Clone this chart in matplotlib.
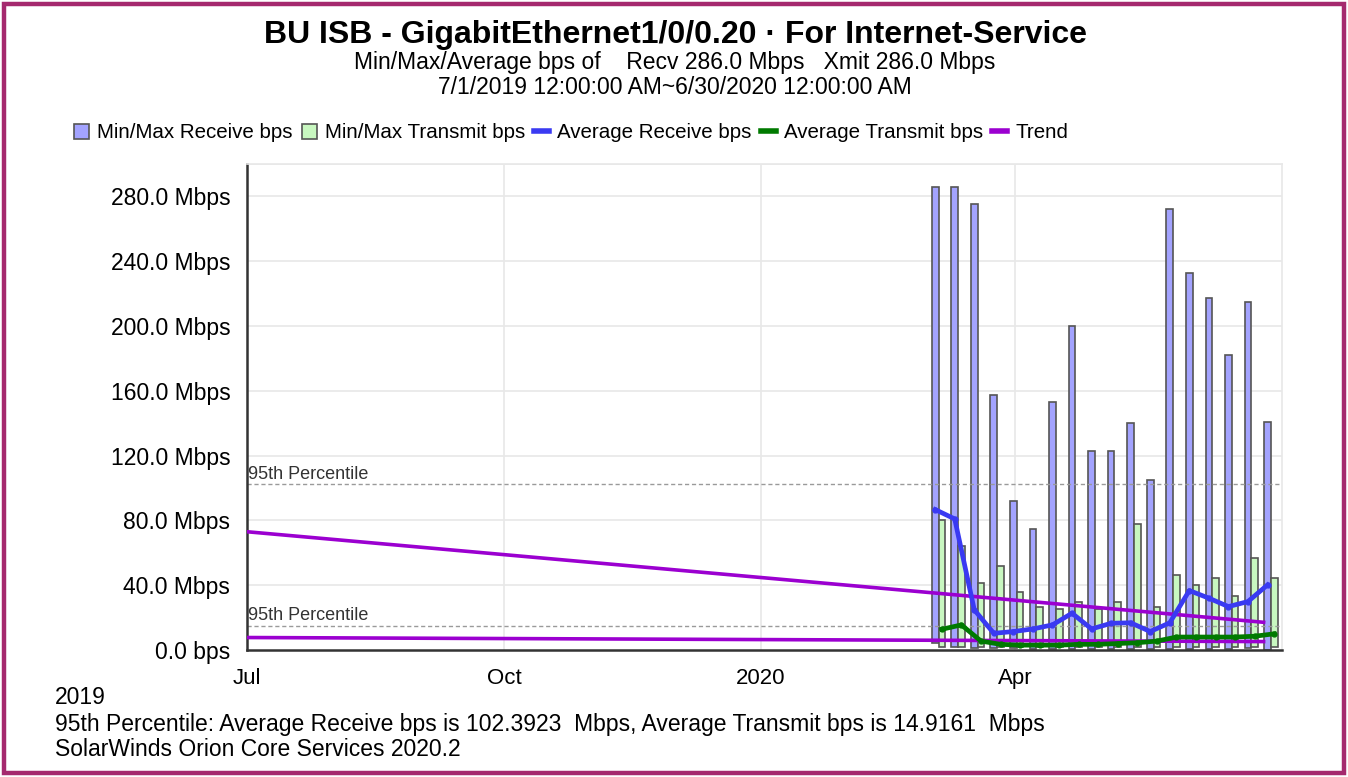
import matplotlib
matplotlib.use("Agg")
import matplotlib.pyplot as plt
import matplotlib.dates as mdates
from matplotlib.patches import Patch, Rectangle
from matplotlib.lines import Line2D
import pandas as pd

# weekly buckets (Min/Max bars + averages)
week_dates = [
    "2020-03-04", "2020-03-11", "2020-03-18", "2020-03-25", "2020-04-01",
    "2020-04-08", "2020-04-15", "2020-04-22", "2020-04-29", "2020-05-06",
    "2020-05-13", "2020-05-20", "2020-05-27", "2020-06-03", "2020-06-10",
    "2020-06-17", "2020-06-24", "2020-07-01",
]
recv_max = [286, 286, 275, 157.5, 92, 75, 153, 200, 123, 123,
            140, 105, 272, 233, 217, 182, 215, 141]
recv_min = [4.5, 1.6, 1.5, 1.0, 1.0, 0.8, 0.8, 0.8, 0.5, 0.5,
            0.5, 0.5, 0.8, 0.8, 0.8, 0.8, 1.0, 0.3]
xmit_max = [80.5, 64, 41.3, 52, 35.6, 26.8, 25.2, 29.9, 25.2, 29.9,
            78, 26.8, 46.4, 40.2, 44.4, 33.4, 56.8, 44.4]
xmit_min = [2.0, 2.0, 2.0, 2.0, 2.0, 2.0, 2.0, 2.0, 2.0, 2.0,
            2.0, 2.0, 2.0, 2.0, 2.0, 2.0, 2.0, 2.0]
recv_avg = [86.7, 80.9, 24.8, 10.3, 11.4, 13, 15.5, 22.7, 13, 16.5,
            16.8, 11.4, 16.8, 36.7, 32, 26.8, 29.9, 40.2]
xmit_avg = [12.8, 15.5, 5.5, 3.5, 3, 3, 3, 3.5, 3.5, 4,
            4.5, 5.5, 8, 8, 8, 8, 8.5, 10]

# trend lines (start / end)
trend_dates = ["2019-07-01", "2020-06-29"]
recv_trend = [73.0, 17.1]
xmit_trend = [7.7, 5.2]

# 95th percentile values (Mbps)
p95_recv = 102.3923
p95_xmit = 14.9161

x_range = ["2019-07-01T00:00", "2020-07-05T14:00"]
tick_dates = ["2019-07-01", "2019-10-01", "2020-01-01", "2020-04-01"]
tick_labels = ["Jul", "Oct", "2020", "Apr"]
y_ticks = [0, 40, 80, 120, 160, 200, 240, 280]

plt.rcParams["font.family"] = "Liberation Sans"

RECV_FILL = "#a3a3ff"
XMIT_FILL = "#c8f7c0"
EDGE = "#555555"
BLUE = "#3a3af2"
GREEN = "#007a00"
PURPLE = "#9b00d0"


def to_num(dates):
    return mdates.date2num(pd.to_datetime(dates, format="ISO8601"))


W, H = 1348, 777
fig = plt.figure(figsize=(W / 100, H / 100), dpi=100)
ax = fig.add_axes([247 / W, 1 - 650 / H, (1282 - 247) / W, (650 - 164) / H])

wx = to_num(week_dates)
recv_x = wx - 0.6
xmit_x = wx + 1.8
bar_w = 2.4

ax.bar(recv_x, [a - b for a, b in zip(recv_max, recv_min)], bottom=recv_min,
       width=bar_w, color=RECV_FILL, edgecolor=EDGE, linewidth=1.2, zorder=2)
ax.bar(xmit_x, [a - b for a, b in zip(xmit_max, xmit_min)], bottom=xmit_min,
       width=bar_w, color=XMIT_FILL, edgecolor=EDGE, linewidth=1.2, zorder=2)

tx = to_num(trend_dates)
ax.plot(tx, recv_trend, color=PURPLE, lw=2.6, zorder=3)
ax.plot(tx, xmit_trend, color=PURPLE, lw=2.6, zorder=3)

ax.plot(xmit_x, xmit_avg, color=GREEN, lw=3.4, marker="o", ms=3.5, zorder=4)
ax.plot(recv_x, recv_avg, color=BLUE, lw=3.4, marker="o", ms=3.5, zorder=5)

# 95th percentile guides
x0, x1 = to_num(x_range)
for val in (p95_recv, p95_xmit):
    ax.axhline(val, color="#9a9a9a", lw=1.0, ls=(0, (3, 2)), zorder=2.5)
    ax.text(x0 + 0.3, val + 1.0, "95th Percentile", fontsize=13, color="#333333",
            ha="left", va="bottom", zorder=6)

ax.set_xlim(x0, x1)
ax.set_ylim(0, 300)
ax.set_xticks(to_num(tick_dates))
ax.set_xticklabels(tick_labels, fontsize=16)
ax.set_yticks(y_ticks)
ax.set_yticklabels(["0.0 bps"] + [f"{v:.1f} Mbps" for v in y_ticks[1:]],
                   fontsize=16.5)
ax.tick_params(length=0, pad=12)
ax.tick_params(axis="x", pad=13)

# light grid incl. the top boundary
for v in y_ticks[1:] + [300]:
    ax.axhline(v, color="#e8e8e8", lw=1.2, zorder=0)
for d in to_num(tick_dates[1:]):
    ax.axvline(d, color="#e8e8e8", lw=1.2, zorder=0)

for side in ("top", "right"):
    ax.spines[side].set_color("#e8e8e8")
    ax.spines[side].set_linewidth(1.2)
for side in ("left", "bottom"):
    ax.spines[side].set_color("#333333")
    ax.spines[side].set_linewidth(1.8)

# titles
fig.text(675 / W, 1 - 35 / H, "BU ISB - GigabitEthernet1/0/0.20 \u00b7 For Internet-Service",
         ha="center", va="center", fontsize=23, fontweight="bold")
fig.text(675 / W, 1 - 62 / H,
         "Min/Max/Average bps of    Recv 286.0 Mbps   Xmit 286.0 Mbps",
         ha="center", va="center", fontsize=16.5)
fig.text(675 / W, 1 - 87 / H, "7/1/2019 12:00:00 AM~6/30/2020 12:00:00 AM",
         ha="center", va="center", fontsize=16.5)

# legend
handles = [
    Patch(facecolor=RECV_FILL, edgecolor=EDGE, linewidth=1.2),
    Patch(facecolor=XMIT_FILL, edgecolor=EDGE, linewidth=1.2),
    Line2D([], [], color=BLUE, lw=4),
    Line2D([], [], color=GREEN, lw=4),
    Line2D([], [], color=PURPLE, lw=4),
]
labels = ["Min/Max Receive bps", "Min/Max Transmit bps", "Average Receive bps",
          "Average Transmit bps", "Trend"]
fig.legend(handles, labels, loc="center left", bbox_to_anchor=(74 / W, 1 - 133 / H),
           ncol=5, frameon=False, fontsize=14.8, handlelength=0.72,
           handleheight=0.72, handletextpad=0.4, columnspacing=0.45,
           borderpad=0, borderaxespad=0)

# footer
fig.text(55 / W, 1 - 697 / H, "2019", ha="left", va="center", fontsize=16.5)
fig.text(55 / W, 1 - 724 / H,
         "95th Percentile: Average Receive bps is 102.3923  Mbps, "
         "Average Transmit bps is 14.9161  Mbps",
         ha="left", va="center", fontsize=16.5)
fig.text(55 / W, 1 - 749 / H, "SolarWinds Orion Core Services 2020.2",
         ha="left", va="center", fontsize=16.5)

# outer frame
fig.patches.append(Rectangle((4 / W, 4 / H), 1 - 8 / W, 1 - 8 / H,
                             transform=fig.transFigure, fill=False,
                             edgecolor="#a5296e", linewidth=3.2))

fig.savefig("out.png", dpi=100)
plt.close(fig)
